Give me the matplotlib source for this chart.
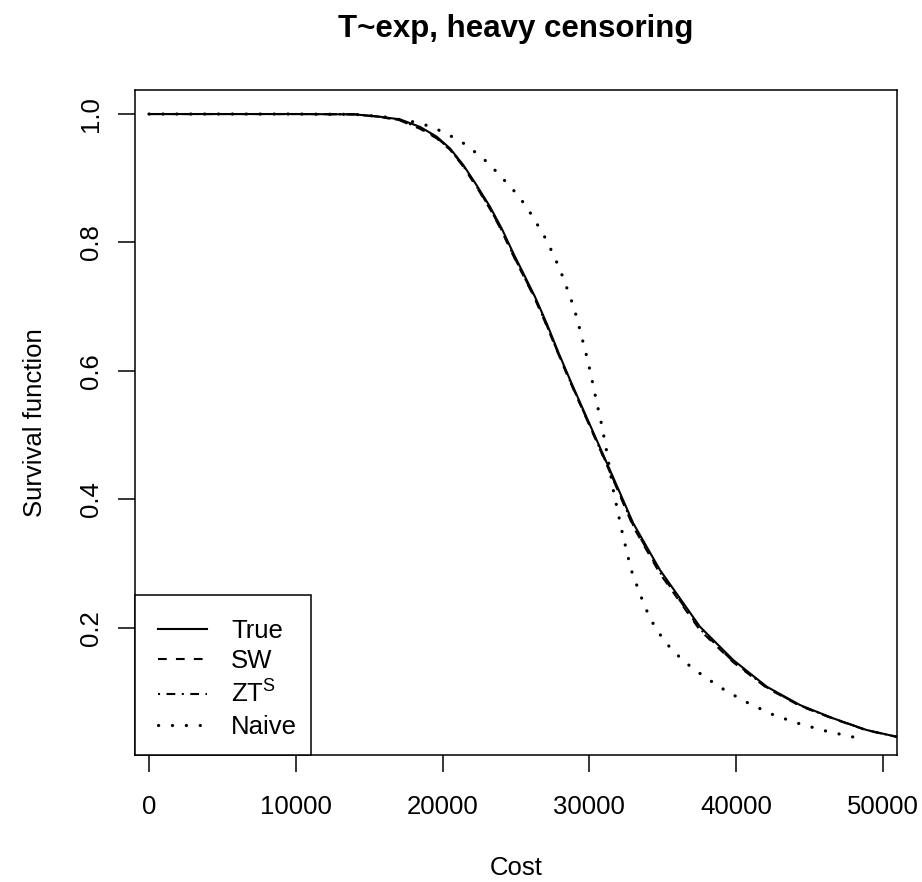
import matplotlib
matplotlib.use("Agg")
import matplotlib.pyplot as plt
from matplotlib.patches import Rectangle
import numpy as np

plt.rcParams['font.family'] = ['Liberation Sans', 'DejaVu Sans']
plt.rcParams['mathtext.fontset'] = 'custom'
plt.rcParams['mathtext.rm'] = 'Liberation Sans'
plt.rcParams['mathtext.it'] = 'Liberation Sans:italic'
plt.rcParams['mathtext.bf'] = 'Liberation Sans:bold'

# ---------------- data ----------------
true_x = [0, 5000, 10000, 14000, 15740, 17100, 18460, 19600, 20500, 21410, 22320,
          23230, 24020, 24820, 25500, 26290, 27090, 27900, 28700, 29590, 30500,
          31400, 32990, 34810, 37530, 39800, 42080, 44350, 46610, 48890, 50930]
true_y = [1.0, 1.0, 1.0, 0.9995, 0.9958, 0.9917, 0.980, 0.9647, 0.9466, 0.9206, 0.889,
          0.8556, 0.822, 0.783, 0.752, 0.7155, 0.674, 0.628, 0.585, 0.539, 0.492,
          0.4455, 0.3624, 0.2897, 0.2014, 0.1495, 0.108, 0.0794, 0.0587, 0.0405, 0.030]

sw_x = [0, 5000, 10000, 14000, 15740, 17100, 18460, 19600, 20500, 21410, 22320,
        23230, 24020, 24820, 25500, 26290, 27090, 27900, 28700, 29590, 30500,
        31400, 32990, 34810, 37530, 39800, 42080, 44350, 46610, 48890, 50930]
sw_y = [1.0, 1.0, 1.0, 0.9995, 0.9955, 0.990, 0.977, 0.962, 0.9445, 0.918, 0.886,
        0.852, 0.818, 0.779, 0.748, 0.712, 0.670, 0.625, 0.582, 0.536, 0.489,
        0.442, 0.357, 0.284, 0.196, 0.146, 0.106, 0.078, 0.058, 0.040, 0.030]

zt_x = [0, 5000, 10000, 14000, 15740, 17100, 18460, 19600, 20500, 21410, 22320,
        23230, 24020, 24820, 25500, 26290, 27090, 27900, 28700, 29590, 30500,
        31400, 32990, 34810, 37530, 39800, 42080, 44350, 46610, 48890, 50930]
zt_y = [1.0, 1.0, 1.0, 0.9995, 0.9956, 0.9905, 0.978, 0.963, 0.9455, 0.919, 0.887,
        0.853, 0.819, 0.780, 0.749, 0.713, 0.671, 0.626, 0.583, 0.537, 0.490,
        0.443, 0.359, 0.286, 0.198, 0.147, 0.107, 0.0785, 0.0585, 0.0402, 0.030]

naive_x = [0, 5000, 10000, 14000, 15960, 18230, 19100, 19940, 20730, 21530, 22250,
           22940, 23590, 24200, 24820, 25390, 25910, 26380, 26860, 27270, 27660,
           28020, 28340, 28660, 28950, 29200, 29430, 29650, 29880, 30270, 30450,
           30840, 31180, 31630, 32200, 32830, 33450, 34130, 35130, 36400, 37830,
           39350, 40940, 42600, 44350, 46100, 47870, 48770]
naive_y = [1.0, 1.0, 1.0, 0.9995, 0.9958, 0.987, 0.981, 0.973, 0.9637, 0.953, 0.940,
           0.927, 0.912, 0.897, 0.8816, 0.8656, 0.8484, 0.8307, 0.8126, 0.7944, 0.775,
           0.7565, 0.7368, 0.717, 0.698, 0.6776, 0.6573, 0.637, 0.617, 0.576, 0.556,
           0.5156, 0.474, 0.414, 0.352, 0.291, 0.252, 0.214, 0.178, 0.148, 0.1235,
           0.1008, 0.081, 0.0634, 0.050, 0.039, 0.030, 0.0265]

x_ticks = [0, 10000, 20000, 30000, 40000, 50000]
x_ticklabels = ["0", "10000", "20000", "30000", "40000", "50000"]
y_ticks = [0.2, 0.4, 0.6, 0.8, 1.0]
y_ticklabels = ["0.2", "0.4", "0.6", "0.8", "1.0"]

series_labels = ["True", "SW", r"$\mathrm{ZT}^{\mathrm{S}}$", "Naive"]
title = "T~exp, heavy censoring"
xlabel = "Cost"
ylabel = "Survival function"

# ---------------- figure ----------------
W, H = 922, 882
fig = plt.figure(figsize=(W / 100, H / 100), dpi=100)
ax = fig.add_axes([134.7 / W, 1 - 755 / H, (896.7 - 134.7) / W, (755 - 89.7) / H])

FS = 18.5
LW = 1.5
ax.plot(true_x, true_y, color='black', lw=LW, linestyle='-', label=series_labels[0])
ax.plot(sw_x, sw_y, color='black', lw=LW, linestyle=(0, (4.2, 4.4)), label=series_labels[1])
ax.plot(zt_x, zt_y, color='black', lw=LW, linestyle=(0, (1.0, 3.1, 4.2, 3.1)), label=series_labels[2])
ax.plot(naive_x, naive_y, color='black', lw=2.3, linestyle=(0, (0.05, 4.3)),
        dash_capstyle='round', label=series_labels[3])

ax.set_xlim(-974, 50933)
ax.set_ylim(0.0016, 1.0379)

ax.set_xticks(x_ticks)
ax.set_xticklabels(x_ticklabels)
ax.set_yticks(y_ticks)
ax.set_yticklabels(y_ticklabels, rotation=90, va='center')
ax.tick_params(axis='both', direction='out', length=11.9, width=1.1, labelsize=FS, colors='black')
ax.tick_params(axis='x', pad=16.8)
ax.tick_params(axis='y', pad=11.2)
for sp in ax.spines.values():
    sp.set_linewidth(1.1)
    sp.set_color('black')

fig.text(515.7 / W, 1 - 36.7 / H, title, ha='center', va='baseline',
         fontsize=22.5, fontweight='bold')
fig.text(515.7 / W, 1 - 875 / H, xlabel, ha='center', va='baseline', fontsize=FS)
fig.text(41.5 / W, 1 - 422.4 / H, ylabel, ha='center', va='baseline', fontsize=FS,
         rotation=90, rotation_mode='anchor')

# legend: content without frame, frame drawn as a separate box (R style paddings)
frame = Rectangle((134.7 / W, 1 - 755 / H), (311 - 134.7) / W, (755 - 595) / H,
                  transform=fig.transFigure, facecolor='white', edgecolor='black',
                  linewidth=1.1, zorder=4)
ax.add_patch(frame)
frame.set_clip_on(False)
leg = ax.legend(loc='upper left', bbox_to_anchor=(158 / W, 1 - 618.5 / H),
                bbox_transform=fig.transFigure, borderaxespad=0, borderpad=0,
                frameon=False, fontsize=FS, handlelength=1.9, handletextpad=0.95,
                labelspacing=0.27)
leg.set_zorder(6)

fig.savefig("out.png", dpi=100, facecolor='white')
